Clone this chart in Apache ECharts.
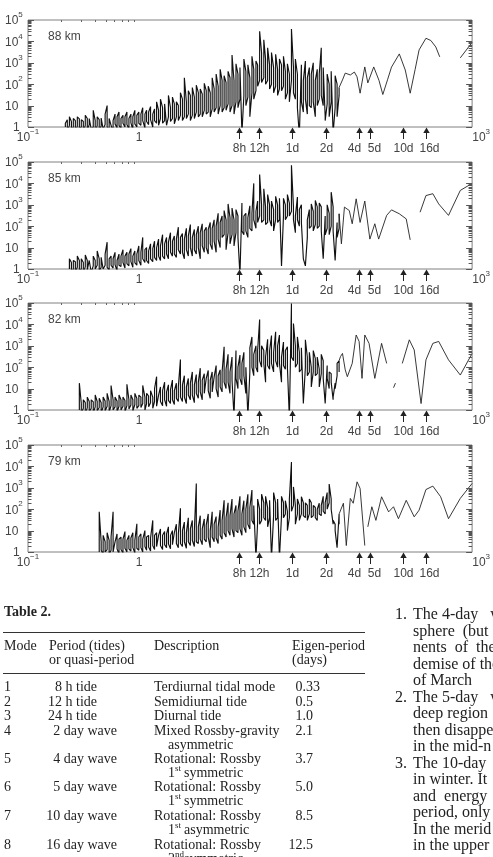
<!DOCTYPE html>
<html>
<head>
<meta charset="utf-8">
<script src="https://cdn.jsdelivr.net/npm/echarts@6.0.0/dist/echarts.min.js"></script>
<style>
html, body { margin: 0; padding: 0; background: #fff; }
#main { width: 493px; height: 857px; }
</style>
</head>
<body>
<div id="main"></div>
<script>
// periods (hours) of the spectral bins in the noisy part
var periods = [
  0.200, 0.208, 0.217, 0.226, 0.236, 0.246, 0.256, 0.267, 0.278, 0.290,
  0.302, 0.315, 0.328, 0.342, 0.356, 0.371, 0.387, 0.403, 0.420, 0.438,
  0.456, 0.475, 0.495, 0.516, 0.538, 0.560, 0.584, 0.608, 0.634, 0.660,
  0.688, 0.717, 0.747, 0.778, 0.811, 0.845, 0.880, 0.917, 0.956, 0.996,
  1.04, 1.08, 1.13, 1.17, 1.22, 1.27, 1.33, 1.38, 1.44, 1.50,
  1.56, 1.63, 1.70, 1.77, 1.84, 1.92, 2.00, 2.08, 2.17, 2.26,
  2.36, 2.46, 2.56, 2.67, 2.78, 2.90, 3.02, 3.15, 3.28, 3.42,
  3.56, 3.71, 3.87, 4.03, 4.20, 4.38, 4.56, 4.75, 4.95, 5.16,
  5.38, 5.60, 5.84, 6.08, 6.34, 6.60, 6.88, 7.17, 7.47, 7.78,
  8.11, 8.45, 8.80, 9.17, 9.56, 9.96, 10.4, 10.8, 11.3, 11.7,
  12.2, 12.7, 13.3, 13.8, 14.4, 15.0, 15.6, 16.3, 17.0, 17.7,
  18.4, 19.2, 20.0, 20.8, 21.7, 22.6, 23.6, 24.6, 25.6, 26.7,
  27.8, 29.0, 30.2, 31.5, 32.8, 34.2, 35.6, 37.1, 38.7, 40.3,
  42.0, 43.8, 45.6, 47.5, 49.5, 51.6, 53.8, 56.0, 58.4, 60.8,
  63.4
];

// peak power in each bin, one list per height ('-' = no estimate)
var p88 = [
  '-', '-', 1.5, 2.2, 3, 1.8, 2.5, 2, 3, 2.4,
  2.2, 1.8, 3.5, 2.5, 2.5, 3, 6, 2, 3, 2.2,
  2.6, 3, 4, 10, 2.5, 3, 2, 4, 3, 5,
  2.5, 3.5, 3, 5, 2.5, 4, 3, 6, 3.5, 5,
  4, 8, 4, 6, 5, 9, 4, 7, 15, 6,
  20, 8, 12, 10, 30, 8, 25, 12, 15, 10,
  40, 20, 200, 15, 50, 30, 70, 25, 90, 40,
  60, 35, 110, 50, 80, 40, 200, 60, 300, 80,
  500, 150, 250, 120, 400, 200, 2300, 150, 900, 300,
  600, 0.5, 1500, 400, 800, 200, 2000, 500, 1200, 800,
  30000, 3000, 12000, 1500, 5000, 800, 3000, 600, 2500, 500,
  1500, 800, 2000, 400, 900, 300, 38000, 600, 1500, 300,
  0.4, 800, 150, 1200, 200, 600, 300, 1000, 150, 500,
  300, 5000, 600, 3, 300, 100, 400, 0.5, 250, 100,
  70
];
var p85 = [
  '-', '-', '-', '-', 3, 2, 2.5, 2.2, 4, 2.5,
  3, 2, 4.5, 2.5, 2.5, 3, 4, 2.5, 7, 3,
  3.5, 3, 5, 18, 3, 4, 3, 6, 2.5, 5,
  4, 8, 4, 6, 5, 9, 4, 7, 5, 12,
  6, 30, 8, 10, 7, 15, 9, 20, 10, 25,
  12, 40, 15, 30, 18, 50, 20, 35, 25, 90,
  30, 45, 25, 80, 35, 120, 30, 70, 40, 100,
  50, 130, 60, 90, 70, 150, 80, 200, 100, 400,
  150, 300, 540, 200, 1100, 250, 700, 200, 600, 300,
  0.5, 1200, 300, 400, 250, 900, 400, 10000, 500, 1500,
  26000, 1000, 5600, 800, 3000, 1000, 1500, 600, 2500, 1000,
  2000, 1.4, 2000, 1000, 3000, 1200, 70000, 800, 300, 2300,
  600, 1000, 3, 1.4, 200, 600, 1100, 500, 1600, 800,
  1200, 800, 3, 300, 1000, 400, 3900, 800, 2.5, 150,
  380
];
var p82 = [
  '-', '-', '-', '-', '-', '-', '-', '-', '-', 18,
  2, 3, 2.2, 4, 2.5, 3, 2.4, 5, 2.5, 3.5,
  2.2, 4, 2.6, 6, 2.5, 14, 3, 4, 2.6, 5,
  3, 4, 2.8, 16, 3, 5, 3, 6, 3.5, 5,
  4, 14, 4, 6, 4.5, 8, 4, 10, 36, 5,
  12, 8, 20, 7, 15, 9, 25, 8, 18, 12,
  230, 15, 40, 12, 30, 18, 60, 15, 45, 20,
  90, 25, 50, 30, 70, 25, 60, 35, 120, 40,
  75, 60, 900, 80, 400, 60, 300, 0.5, 600, 100,
  370, 150, 500, 100, 0.5, 800, 2600, 400, 1000, 600,
  17000, 1000, 600, 300, 2000, 600, 3000, 500, 4500, 1000,
  3200, 300, 1500, 600, 900, 0.4, 95000, 11000, 1000, 2600,
  500, 800, 2, 1900, 300, 500, 100, 600, 250, 300,
  80, 400, 200, 2, 120, 60, 50, 4, 18, 150,
  200
];
var p79 = [
  '-', '-', '-', '-', '-', '-', '-', '-', '-', '-',
  '-', '-', '-', '-', '-', '-', '-', '-', '-', 75,
  3, 6, 3, 8, 3.5, 5, 75, 3, 7, 4,
  5, 4, 9, 3.5, 6, 4.5, 8, 3.5, 21, 5,
  7, 4, 10, 5, 6, 4.5, 30, 6, 8, 6,
  12, 6, 9, 7, 15, 6, 10, 8, 20, 7,
  110, 10, 25, 8, 40, 12, 30, 10, 1600, 15,
  50, 12, 35, 18, 60, 10, 75, 20, 45, 15,
  90, 30, 260, 40, 200, 50, 300, 60, 150, 80,
  400, 60, 250, 100, 500, 120, 780, 150, 0.5, 300,
  100, 500, 200, 400, 120, 260, 0.5, 600, 200, 300,
  0.5, 400, 200, 250, 80, 300, 16000, 1100, 150, 300,
  150, 380, 200, 200, 150, 300, 200, 150, 120, 100,
  190, 150, 400, 200, 600, 1500, 300, 30, 20, 1.6,
  60
];

// lowest power in each bin
var lo88 = [
  '-', '-', 1, 0.6, 1.2, 0.7, 1, 0.5, 1.1, 0.8,
  1, 0.6, 1.2, 0.7, 1.3, 0.8, 1, 0.5, 1.2, 0.7,
  1.1, 0.8, 1.3, 1, 0.7, 1.2, 0.6, 1.4, 0.9, 1.2,
  0.8, 1.5, 1, 1.3, 0.8, 1.6, 0.7, 1.4, 1, 1.5,
  1.2, 2, 0.9, 1.8, 1.3, 2.2, 1, 2, 1.5, 1.2,
  2.5, 1.5, 2, 1.2, 3, 1.8, 2.5, 1.4, 3, 2,
  3.5, 2, 3, 2.5, 4, 2, 3.5, 2.5, 5, 3,
  4, 3, 6, 4, 5, 3, 7, 5, 8, 4,
  10, 5, 8, 6, 12, 5, 10, 4, 15, 8,
  20, 0.5, 30, 10, 25, 3, 40, 20, 50, 80,
  150, 120, 200, 100, 150, 60, 100, 40, 80, 30,
  60, 50, 80, 20, 40, 15, 150, 40, 20, 8,
  0.4, 15, 5, 20, 4, 10, 8, 15, 3, 10,
  20, 30, 10, 2, 12, 3, 15, 0.5, 8, 3,
  30
];
var lo85 = [
  '-', '-', '-', '-', 1, 0.6, 1, 0.7, 1.2, 0.8,
  1, 0.6, 1.3, 0.9, 1, 0.7, 1.4, 1, 1.5, 0.8,
  1.2, 1, 1.5, 1.2, 0.9, 1.5, 1.1, 1.6, 0.8, 1.5,
  1.3, 2, 1.1, 1.8, 1.4, 2.2, 1.2, 2, 1.5, 2.5,
  1.5, 3, 2, 2.5, 1.8, 3, 2.2, 3.5, 2.5, 4,
  2.5, 4, 3, 5, 3, 6, 4, 5, 3.5, 8,
  5, 6, 3, 8, 4, 10, 4, 8, 5, 10,
  3, 12, 6, 10, 5, 15, 8, 20, 6, 25,
  10, 30, 40, 8, 50, 15, 40, 12, 50, 30,
  0.5, 60, 40, 60, 30, 80, 60, 200, 80, 150,
  300, 150, 200, 120, 150, 200, 100, 60, 200, 150,
  200, 1.4, 300, 200, 300, 300, 500, 200, 50, 200,
  100, 150, 3, 1.4, 30, 80, 100, 60, 120, 80,
  100, 60, 3, 40, 80, 40, 100, 60, 2.5, 30,
  80
];
var lo82 = [
  '-', '-', '-', '-', '-', '-', '-', '-', '-', 1,
  0.7, 1.2, 0.6, 1.3, 0.8, 1.2, 0.7, 1.4, 0.9, 1.3,
  0.7, 1.4, 0.9, 1.5, 0.8, 1.6, 1, 1.4, 0.8, 1.5,
  1, 1.5, 0.8, 1.6, 1.1, 1.7, 0.9, 1.8, 1.2, 1.6,
  1.3, 2, 1, 2, 1.4, 2.2, 1.2, 2.5, 1.5, 1.4,
  2.5, 1.6, 3, 1.5, 2.8, 2, 3, 1.8, 3.5, 2.5,
  4, 2.5, 4, 2, 5, 3, 5, 2.2, 6, 3.5,
  7, 3, 6, 5, 8, 3.5, 7, 6, 10, 4,
  12, 7, 20, 10, 20, 6, 25, 0.5, 30, 10,
  30, 15, 40, 6, 0.5, 60, 100, 40, 100, 60,
  200, 100, 150, 20, 120, 80, 150, 60, 200, 100,
  150, 20, 120, 80, 100, 0.4, 300, 200, 100, 150,
  60, 80, 2, 100, 40, 60, 12, 60, 40, 50,
  12, 50, 30, 2, 30, 10, 20, 3, 10, 40,
  60
];
var lo79 = [
  '-', '-', '-', '-', '-', '-', '-', '-', '-', '-',
  '-', '-', '-', '-', '-', '-', '-', '-', '-', 1,
  1.2, 0.8, 1, 1.3, 0.8, 1.2, 1, 0.9, 1.4, 0.8,
  1.3, 0.9, 1.5, 1, 1.4, 1.1, 1.6, 0.9, 1.5, 1.2,
  1.6, 1, 1.8, 1.2, 1.7, 1.1, 2, 1.3, 1.8, 1.5,
  2, 1.3, 2.2, 1.6, 2.4, 1.4, 2.2, 1.8, 2.5, 1.6,
  2.5, 1.8, 3, 1.5, 3, 2, 3.5, 1.8, 3, 2.5,
  4, 2.2, 4, 3, 5, 1.6, 5, 3, 4.5, 2.5,
  6, 4, 8, 5, 10, 6, 12, 5, 10, 8,
  12, 6, 15, 8, 20, 12, 30, 20, 0.5, 25,
  20, 30, 40, 30, 15, 40, 0.5, 50, 30, 40,
  0.5, 50, 40, 60, 10, 40, 80, 150, 20, 60,
  30, 60, 50, 40, 30, 60, 40, 50, 40, 30,
  60, 50, 80, 60, 100, 200, 100, 20, 10, 1.6,
  20
];

// long-period part: [period (h), power], null = gap in the record
var tail88 = [[68, 158], [72, 330], [80, 270], [87, 370], [92, 220], [98, 38], [108, 640], [115, 115],
  [130, 640], [145, 150], [157, 33], [173, 160], [188, 630], [221, 2600], [250, 460], [277, 38],
  [307, 500], [333, 4000], [384, 14000], [425, 11000], [471, 5500], [511, 1900], null, [783, 1700], [1000, 9000]];
var tail85 = [[66.5, 15], [70.8, 780], [78.3, 540], [83.2, 130], [90.3, 1900], [98, 150], [108, 1500], [120, 25],
  [133, 130], [144, 25], [170, 320], [188, 580], [221, 380], [255, 220], [277, 23], null,
  [340, 450], [384, 2700], [443, 3300], [500, 1100], [613, 320], [783, 4700], [1000, 10000]];
var tail82 = [[65.2, 310], [68, 440], [72, 75], [75.2, 36], [83.2, 150], [90.3, 3200], [96, 1600], [102, 30],
  [108, 3200], [118, 1300], [133, 30], [153, 1300], [170, 150], null, [196, 11], [204, 18], null,
  [235, 150], [272, 1900], [301, 640], [347, 2], [384, 220], [443, 1300], [500, 1600], [613, 220], [783, 43], [1000, 440]];
var tail79 = [[69.3, 190], [73.6, 2], [80, 320], [85, 190], [92, 1900], [98, 930], [108, 2], null,
  [115, 15], [125, 130], [136, 30], [153, 380], [177, 75], [196, 130], [217, 36], [255, 260],
  [301, 44], [333, 90], [384, 830], [443, 1200], [521, 380], [613, 36], [783, 320], [1000, 1600]];

var heights = ['88 km', '85 km', '82 km', '79 km'];
var peaks = [p88, p85, p82, p79];
var lows = [lo88, lo85, lo82, lo79];
var tails = [tail88, tail85, tail82, tail79];

// marked periods (hours) below each panel
var markPeriods = [8, 12, 24, 48, 96, 120, 240, 384];
var markLabels = ['8h', '12h', '1d', '2d', '4d', '5d', '10d', '16d'];
var markShift = [0, 0, 0, 0, -5, 4, 0, 3];

// table 2
var tabMode = ['1', '2', '3', '4', '5', '6', '7', '8'];
var tabPeriod = ['8 h tide', '12 h tide', '24 h tide', '2 day wave', '4 day wave', '5 day wave', '10 day wave', '16 day wave'];
var tabDesc = ['Terdiurnal tidal mode', 'Semidiurnal tide', 'Diurnal tide', 'Mixed Rossby-gravity',
  'Rotational: Rossby', 'Rotational: Rossby', 'Rotational: Rossby', 'Rotational: Rossby'];
var tabDesc2 = [null, null, null, ['', '', 'asymmetric'], ['1', 'st', 'symmetric'], ['1', 'st', 'symmetric'],
  ['1', 'st', 'asymmetric'], ['2', 'nd', 'symmetric']];
var tabEigen = ['0.33', '0.5', '1.0', '2.1', '3.7', '5.0', '8.5', '12.5'];
var tabRowY = [687, 702, 716, 731, 759, 787, 816, 845];

var textLines = [
  ['1.', 'The 4-day   wave'], ['', 'sphere  (but'], ['', 'nents  of  the'], ['', 'demise of the'], ['', 'of March'],
  ['2.', 'The 5-day   wave'], ['', 'deep region'], ['', 'then disappears'], ['', 'in the mid-n'],
  ['3.', 'The 10-day'], ['', 'in winter. It'], ['', 'and  energy'], ['', 'period, only'], ['', 'In the merid'], ['', 'in the upper']
];

var panelTops = [20, 162, 303, 445];
var sans = '"Liberation Sans", Arial, sans-serif';
var serif = '"Liberation Serif", "Times New Roman", serif';
var grey = '#444';

var myChart = echarts.init(document.getElementById('main'), null, { renderer: 'canvas' });

function lg(v) { return Math.log(v) / Math.LN10; }

function xLabel(v) {
  var e = Math.round(lg(v));
  if (e === 0) return '{n|1}';
  if (e === -1) return '{b|10}{s|\u22121}';
  if (e === 3) return '{r|10}{s|3}';
  return '';
}
function yLabel(v) {
  var e = Math.round(lg(v));
  if (e === 0) return '{n|1}';
  if (e === 1) return '{b|10}';
  return '{b|10}{s|' + e + '}';
}
var xRich = {
  n: { fontSize: 12, fontFamily: sans, color: grey, lineHeight: 12, padding: [8, 0, 0, 0] },
  b: { fontSize: 12, fontFamily: sans, color: grey, lineHeight: 12, padding: [8, 0, 0, 0] },
  r: { fontSize: 12, fontFamily: sans, color: grey, lineHeight: 12, padding: [8, 0, 0, 18] },
  s: { fontSize: 8, fontFamily: sans, color: grey, lineHeight: 8, verticalAlign: 'top' }
};
var yRich = {
  n: { fontSize: 12, fontFamily: sans, color: grey, lineHeight: 12, padding: [8, 0, 0, 8] },
  b: { fontSize: 12, fontFamily: sans, color: grey, lineHeight: 12, padding: [8, 0, 0, 0] },
  s: { fontSize: 8, fontFamily: sans, color: grey, lineHeight: 8, verticalAlign: 'top' }
};

// axis decoration: minor log ticks on both sides, and top ticks in the first decade
var yTicks = [];
for (var d = 1; d < 1e5; d *= 10) {
  for (var m = 1; m < 10; m++) yTicks.push([0.1, m * d]);
}
yTicks.push([0.1, 1e5]);
var topTicks = [];
for (var m2 = 2; m2 < 10; m2++) topTicks.push([m2 / 10, 1e5]);

function yTickItem(params, api) {
  var v = api.value(1);
  var cs = params.coordSys;
  var y = Math.round(api.coord([1, v])[1]) + 0.5;
  var major = Math.abs(lg(v) - Math.round(lg(v))) < 1e-6;
  var len = major ? 6 : 3.5;
  var st = { stroke: '#555', lineWidth: 1 };
  return {
    type: 'group',
    children: [
      { type: 'line', shape: { x1: cs.x, y1: y, x2: cs.x + len, y2: y }, style: st },
      { type: 'line', shape: { x1: cs.x + cs.width, y1: y, x2: cs.x + cs.width - len, y2: y }, style: st }
    ]
  };
}
function topTickItem(params, api) {
  var cs = params.coordSys;
  var x = Math.round(api.coord([api.value(0), 1])[0]) + 0.5;
  return { type: 'line', shape: { x1: x, y1: cs.y, x2: x, y2: cs.y + 2 }, style: { stroke: '#666', lineWidth: 1 } };
}
function arrowItem(params, api) {
  var cs = params.coordSys;
  var x = Math.round(api.coord([api.value(0), 1])[0]) + 0.5;
  var y = cs.y + cs.height;
  var i = params.dataIndex;
  return {
    type: 'group',
    children: [
      { type: 'polygon', shape: { points: [[x, y + 0.5], [x - 3.2, y + 6], [x + 3.2, y + 6]] }, style: { fill: '#222' } },
      { type: 'line', shape: { x1: x, y1: y + 5, x2: x, y2: y + 12 }, style: { stroke: '#222', lineWidth: 1 } },
      { type: 'text', style: { text: markLabels[i], x: x + markShift[i], y: y + 22, align: 'center', verticalAlign: 'middle',
        textAlign: 'center', textVerticalAlign: 'middle', font: '12px ' + sans, fill: grey } }
    ]
  };
}

// noisy part: each bin is a stroke between its low and its peak
function binPairs(hi, lo) {
  var out = [], up = true;
  for (var i = 0; i < periods.length; i++) {
    if (hi[i] === '-') continue;
    if (up) {
      out.push([periods[i], lo[i]]);
      out.push([periods[i], hi[i]]);
    } else {
      out.push([periods[i], hi[i]]);
      out.push([periods[i], lo[i]]);
    }
    up = !up;
  }
  return out;
}
// smooth long-period part, starting from the last bin of the noisy part
function tailPairs(hi, tail) {
  var n = periods.length - 1;
  var out = [[periods[n], hi[n]]];
  tail.forEach(function (p) { out.push(p ? p : ['-', '-']); });
  return out;
}

var grids = [], xAxes = [], yAxes = [], series = [];
panelTops.forEach(function (top, k) {
  grids.push({ left: 28, width: 457, top: top, height: 107, show: true, borderColor: '#808080', borderWidth: 1 });
  xAxes.push({
    gridIndex: k, type: 'log', logBase: 10, min: 0.1, max: 1000,
    axisLine: { show: false }, axisTick: { show: false }, splitLine: { show: false },
    axisLabel: { margin: 1, formatter: xLabel, rich: xRich, showMinLabel: true, showMaxLabel: true, hideOverlap: false }
  });
  yAxes.push({
    gridIndex: k, type: 'log', logBase: 10, min: 1, max: 100000,
    axisLine: { show: false }, axisTick: { show: false }, splitLine: { show: false },
    axisLabel: { align: 'left', margin: 23, padding: [0, 0, 6, 0], formatter: yLabel, rich: yRich,
      showMinLabel: true, showMaxLabel: true, hideOverlap: false }
  });
  series.push({
    type: 'line', name: heights[k], xAxisIndex: k, yAxisIndex: k,
    data: binPairs(peaks[k], lows[k]),
    showSymbol: false, symbol: 'none', clip: true,
    lineStyle: { color: '#111', width: 1.15 }, z: 3
  });
  series.push({
    type: 'line', name: heights[k], xAxisIndex: k, yAxisIndex: k,
    data: tailPairs(peaks[k], tails[k]),
    showSymbol: false, symbol: 'none', connectNulls: false, clip: true,
    lineStyle: { color: '#222', width: 0.9 }, z: 3
  });
  series.push({ type: 'custom', coordinateSystem: 'cartesian2d', xAxisIndex: k, yAxisIndex: k,
    data: yTicks, renderItem: yTickItem, silent: true, z: 4 });
  series.push({ type: 'custom', coordinateSystem: 'cartesian2d', xAxisIndex: k, yAxisIndex: k,
    data: topTicks, renderItem: topTickItem, silent: true, z: 4 });
  series.push({ type: 'custom', coordinateSystem: 'cartesian2d', xAxisIndex: k, yAxisIndex: k,
    data: markPeriods.map(function (p) { return [p, 1]; }), renderItem: arrowItem, silent: true, clip: false, z: 4 });
});

function txt(x, y, s, font, align) {
  return { type: 'text', silent: true, style: { text: s, x: x, y: y, font: font, fill: '#222',
    textAlign: align || 'left', align: align || 'left', textVerticalAlign: 'middle', verticalAlign: 'middle' } };
}
function hline(x1, x2, y) {
  return { type: 'line', silent: true, shape: { x1: x1, y1: y, x2: x2, y2: y }, style: { stroke: '#333', lineWidth: 1 } };
}

var graphics = [];
heights.forEach(function (h, k) {
  graphics.push({ type: 'text', silent: true, style: { text: h, x: 48, y: panelTops[k] + 17, font: '12px ' + sans, fill: grey,
    textAlign: 'left', align: 'left', textVerticalAlign: 'middle', verticalAlign: 'middle' } });
});

var tf = '14px ' + serif;
graphics.push(txt(4, 612, 'Table 2.', 'bold 14px ' + serif));
graphics.push(hline(3, 365, 632.5));
graphics.push(txt(4, 646, 'Mode', tf));
graphics.push(txt(49, 646, 'Period (tides)', tf));
graphics.push(txt(49, 660, 'or quasi-period', tf));
graphics.push(txt(154, 646, 'Description', tf));
graphics.push(txt(292, 646, 'Eigen-period', tf));
graphics.push(txt(292, 660, '(days)', tf));
graphics.push(hline(3, 365, 673.5));
tabMode.forEach(function (m, i) {
  var y = tabRowY[i];
  graphics.push(txt(4, y, m, tf));
  graphics.push(txt(i < 3 ? 97 : 117, y, tabPeriod[i], tf, 'right'));
  graphics.push(txt(154, y, tabDesc[i], tf));
  graphics.push(txt(i === 0 ? 320 : 313, y, tabEigen[i], tf, 'right'));
  var d2 = tabDesc2[i];
  if (d2) {
    var y2 = y + 14;
    if (d2[0]) {
      graphics.push(txt(168, y2, d2[0], tf));
      graphics.push(txt(175, y2 - 4, d2[1], '9px ' + serif));
      graphics.push(txt(184, y2, d2[2], tf));
    } else {
      graphics.push(txt(168, y2, d2[2], tf));
    }
  }
});

var bf = '16px ' + serif;
textLines.forEach(function (l, i) {
  var y = 615 + i * 16.5;
  if (l[0]) graphics.push(txt(395, y, l[0], bf));
  graphics.push(txt(413, y, l[1], bf));
});

option = {
  backgroundColor: '#fff',
  animation: false,
  grid: grids,
  xAxis: xAxes,
  yAxis: yAxes,
  series: series,
  graphic: { elements: graphics }
};

myChart.setOption(option);
</script>
</body>
</html>
